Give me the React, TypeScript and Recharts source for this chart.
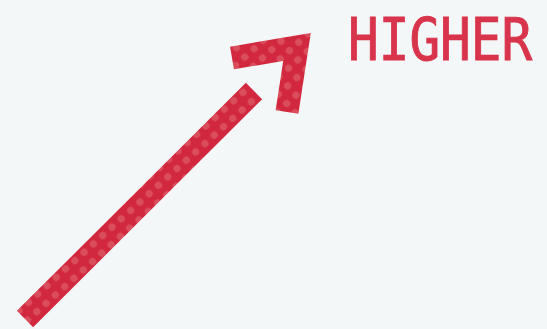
import { ComposedChart, Line, XAxis, YAxis } from 'recharts';

// shaft and head centre lines, in picture units (x right, y down)
const shaftX = [25, 254];
const shaftY = [319, 91];
const headX = [232, 297, 287];
const headY = [58, 47, 112];
const label = 'HIGHER';

const shaft = shaftX.map((x, i) => ({ x, y: shaftY[i] }));
const head = headX.map((x, i) => ({ x, y: headY[i] }));

const RED = '#d2283f';

export default function App() {
  return (
    <div style={{ position: 'fixed', left: 0, top: 0, width: 547, height: 329, background: '#f3f7f7' }}>
      <ComposedChart width={547} height={329} margin={{ top: 0, right: 0, bottom: 0, left: 0 }}>
        <defs>
          <pattern id="dots" patternUnits="userSpaceOnUse" width={12.5} height={12.5} patternTransform="rotate(-42)">
            <rect width={12.5} height={12.5} fill={RED} />
            <circle cx={6.25} cy={6.25} r={3.6} fill="#e0666f" opacity={0.6} />
          </pattern>
        </defs>
        <XAxis type="number" dataKey="x" domain={[0, 547]} hide />
        <YAxis type="number" domain={[0, 329]} reversed hide />
        <Line
          data={shaft}
          dataKey="y"
          type="linear"
          stroke="url(#dots)"
          strokeWidth={23}
          strokeLinecap="butt"
          dot={false}
          activeDot={false}
          isAnimationActive={false}
        />
        <Line
          data={head}
          dataKey="y"
          type="linear"
          stroke="url(#dots)"
          strokeWidth={23}
          strokeLinecap="butt"
          strokeLinejoin="miter"
          dot={false}
          activeDot={false}
          isAnimationActive={false}
        />
        {/* condensed look: mono font stretched vertically */}
        <text
          transform="translate(348,60) scale(1,1.16)"
          x={0}
          y={0}
          fill="#d8344b"
          stroke="#d8344b"
          strokeWidth={0.8}
          fontFamily="DejaVu Sans Mono"
          fontSize={51}
        >
          {label}
        </text>
      </ComposedChart>
    </div>
  );
}
